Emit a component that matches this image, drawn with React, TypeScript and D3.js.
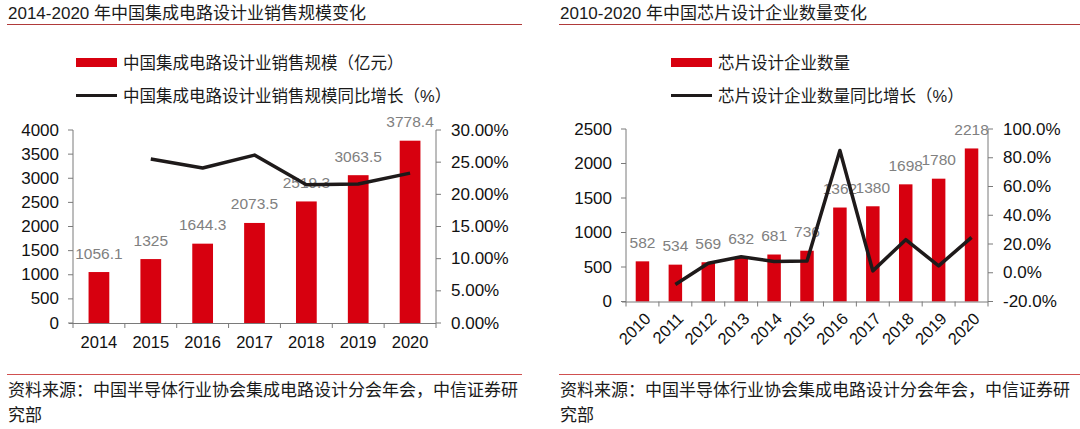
import React from 'react';
import * as d3 from 'd3';

const leftYears = ['2014', '2015', '2016', '2017', '2018', '2019', '2020'];
const leftSales = [1056.1, 1325, 1644.3, 2073.5, 2519.3, 3063.5, 3778.4];
const leftGrowth: (number | null)[] = [null, 25.5, 24.1, 26.1, 21.5, 21.6, 23.3];
const leftLeftTicks = [0, 500, 1000, 1500, 2000, 2500, 3000, 3500, 4000];
const leftRightTicks = [0, 5, 10, 15, 20, 25, 30];

const rightYears = ['2010', '2011', '2012', '2013', '2014', '2015', '2016', '2017', '2018', '2019', '2020'];
const rightCount = [582, 534, 569, 632, 681, 736, 1362, 1380, 1698, 1780, 2218];
const rightGrowth: (number | null)[] = [null, -8.2, 6.6, 11.1, 7.8, 8.1, 85.1, 1.3, 23.0, 4.8, 24.6];
const rightLeftTicks = [0, 500, 1000, 1500, 2000, 2500];
const rightRightTicks = [-20, 0, 20, 40, 60, 80, 100];

const leftTitle = '2014-2020 年中国集成电路设计业销售规模变化';
const leftLegendBar = '中国集成电路设计业销售规模（亿元）';
const leftLegendLine = '中国集成电路设计业销售规模同比增长（%）';
const rightTitle = '2010-2020 年中国芯片设计企业数量变化';
const rightLegendBar = '芯片设计企业数量';
const rightLegendLine = '芯片设计企业数量同比增长（%）';
const footer1 = '资料来源：中国半导体行业协会集成电路设计分会年会，中信证券研';
const footer2 = '究部';

const FONT = '"Liberation Sans", Arial, "Noto Sans CJK SC", sans-serif';
const RED = '#d7000f';
const LINE = '#1e1a1a';
const AXIS = '#7a7a7a';

type ChartProps = {
  ox: number;
  title: string;
  underlineEnd: number;
  legendX: number;
  legendBar: string;
  legendLine: string;
  cats: string[];
  bars: number[];
  growth: (number | null)[];
  x0: number;
  x1: number;
  yTop: number;
  yBot: number;
  lDomain: [number, number];
  rDomain: [number, number];
  lTicks: number[];
  rTicks: number[];
  rFmt: (v: number) => string;
  rotate: boolean;
  padding: number;
};

function Chart(p: ChartProps) {
  const x = d3.scaleBand<string>().domain(p.cats).range([p.x0, p.x1]).paddingInner(0).paddingOuter(0);
  const bw = x.bandwidth() * (1 - p.padding);
  const yl = d3.scaleLinear().domain(p.lDomain).range([p.yBot, p.yTop]);
  const yr = d3.scaleLinear().domain(p.rDomain).range([p.yBot, p.yTop]);
  const pts = p.cats
    .map((c, i) => ({ c, v: p.growth[i] }))
    .filter((d) => d.v !== null) as { c: string; v: number }[];
  const line = d3
    .line<{ c: string; v: number }>()
    .x((d) => (x(d.c) as number) + x.bandwidth() / 2)
    .y((d) => yr(d.v));
  const boundaries = p.cats.map((c) => x(c) as number).concat([p.x1]);
  return (
    <g>
      <text x={p.ox + 8} y={13} fontSize={17} fill="#1a1a1a" dominantBaseline="central">
        {p.title}
      </text>
      <line x1={p.ox + 7} x2={p.underlineEnd} y1={24.5} y2={24.5} stroke="#b03a3a" strokeWidth={1} />
      {/* legend */}
      <rect x={p.legendX} y={58} width={41} height={9} fill={RED} />
      <text x={p.legendX + 47} y={63} fontSize={16.5} fill="#1a1a1a" dominantBaseline="central">
        {p.legendBar}
      </text>
      <line x1={p.legendX} x2={p.legendX + 41} y1={95.5} y2={95.5} stroke={LINE} strokeWidth={3} />
      <text x={p.legendX + 47} y={96} fontSize={16.5} fill="#1a1a1a" dominantBaseline="central">
        {p.legendLine}
      </text>
      {/* bars */}
      {p.cats.map((c, i) => (
        <rect
          key={c}
          x={(x(c) as number) + (x.bandwidth() - bw) / 2}
          y={yl(p.bars[i])}
          width={bw}
          height={p.yBot - yl(p.bars[i])}
          fill={RED}
        />
      ))}
      {/* bar labels */}
      {p.cats.map((c, i) => (
        <text
          key={'l' + c}
          x={(x(c) as number) + x.bandwidth() / 2}
          y={yl(p.bars[i]) - 19}
          fontSize={15.5}
          fill="#808080"
          textAnchor="middle"
          dominantBaseline="central"
        >
          {String(p.bars[i])}
        </text>
      ))}
      {/* axes */}
      <line x1={p.x0} x2={p.x0} y1={p.yTop} y2={p.yBot} stroke={AXIS} />
      <line x1={p.x1} x2={p.x1} y1={p.yTop} y2={p.yBot} stroke={AXIS} />
      <line x1={p.x0 - 4} x2={p.x1} y1={p.yBot + 0.5} y2={p.yBot + 0.5} stroke={AXIS} />
      {p.lTicks.map((t) => (
        <g key={'lt' + t}>
          <line x1={p.x0 - 5} x2={p.x0} y1={yl(t)} y2={yl(t)} stroke={AXIS} />
          <text x={p.x0 - 14} y={yl(t)} fontSize={17} fill="#111" textAnchor="end" dominantBaseline="central">
            {String(t)}
          </text>
        </g>
      ))}
      {p.rTicks.map((t) => (
        <g key={'rt' + t}>
          <line x1={p.x1} x2={p.x1 + 5} y1={yr(t)} y2={yr(t)} stroke={AXIS} />
          <text x={p.x1 + 15} y={yr(t)} fontSize={17} fill="#111" dominantBaseline="central">
            {p.rFmt(t)}
          </text>
        </g>
      ))}
      {boundaries.map((b, i) => (
        <line key={'xt' + i} x1={b} x2={b} y1={p.yBot} y2={p.yBot + 5} stroke={AXIS} />
      ))}
      {p.cats.map((c) => {
        const cx = (x(c) as number) + x.bandwidth() / 2;
        return p.rotate ? (
          <text
            key={'xl' + c}
            x={cx + 5}
            y={p.yBot + 14}
            fontSize={16.5}
            fill="#111"
            textAnchor="end"
            dominantBaseline="central"
            transform={`rotate(-45, ${cx + 5}, ${p.yBot + 14})`}
          >
            {c}
          </text>
        ) : (
          <text key={'xl' + c} x={cx} y={p.yBot + 19} fontSize={16.5} fill="#111" textAnchor="middle" dominantBaseline="central">
            {c}
          </text>
        );
      })}
      {/* line */}
      <path d={line(pts) || ''} fill="none" stroke={LINE} strokeWidth={3.5} strokeLinejoin="round" />
      {/* footer */}
      <line x1={p.ox + 7} x2={p.underlineEnd} y1={374.5} y2={374.5} stroke="#d05050" strokeWidth={1} />
      <text x={p.ox + 8} y={390} fontSize={17} fill="#1a1a1a" dominantBaseline="central">
        {footer1}
      </text>
      <text x={p.ox + 8} y={415} fontSize={17} fill="#1a1a1a" dominantBaseline="central">
        {footer2}
      </text>
    </g>
  );
}

export default function App() {
  return (
    <svg
      width={1080}
      height={429}
      style={{ position: 'absolute', left: 0, top: 0, background: '#fff' }}
      fontFamily={FONT}
    >
      <rect width={1080} height={429} fill="#fff" />
      <Chart
        ox={0}
        title={leftTitle}
        underlineEnd={522}
        legendX={76}
        legendBar={leftLegendBar}
        legendLine={leftLegendLine}
        cats={leftYears}
        bars={leftSales}
        growth={leftGrowth}
        x0={73}
        x1={436}
        yTop={130}
        yBot={323}
        lDomain={[0, 4000]}
        rDomain={[0, 30]}
        lTicks={leftLeftTicks}
        rTicks={leftRightTicks}
        rFmt={(v) => v.toFixed(2) + '%'}
        rotate={false}
        padding={0.6}
      />
      <Chart
        ox={552}
        title={rightTitle}
        underlineEnd={1080}
        legendX={671}
        legendBar={rightLegendBar}
        legendLine={rightLegendLine}
        cats={rightYears}
        bars={rightCount}
        growth={rightGrowth}
        x0={626}
        x1={988}
        yTop={129}
        yBot={301.5}
        lDomain={[0, 2500]}
        rDomain={[-20, 100]}
        lTicks={rightLeftTicks}
        rTicks={rightRightTicks}
        rFmt={(v) => v.toFixed(1) + '%'}
        rotate={true}
        padding={0.59}
      />
    </svg>
  );
}
